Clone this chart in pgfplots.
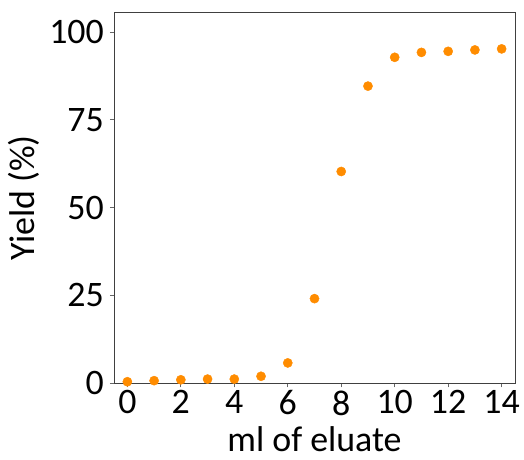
\documentclass[border=0pt]{standalone}
\usepackage{pgfplots}
\pgfplotsset{compat=1.18}
\usepackage{fontspec}
\setmainfont{Carlito}
\definecolor{dorange}{RGB}{255,140,0}
\begin{document}
\fontsize{36}{42}\selectfont
\begin{tikzpicture}
\useasboundingbox (-114bp,-76.7bp) rectangle (410bp,383.3bp);
\begin{axis}[
  at={(0,0)}, anchor=south west,
  scale only axis,
  width=401bp, height=370.6bp,
  xmin=-0.5, xmax=14.5,
  ymin=0, ymax=105.5,
  xtick={0,2,...,14},
  ytick={0,25,50,75,100},
  tick align=outside,
  tick pos=left,
  major tick length=4bp,
  tick style={black!60, line width=0.8pt},
  axis line style={black!75, line width=0.8pt},
  /pgf/number format/assume math mode=true,
  ticklabel style={font=\fontsize{36}{42}\selectfont, inner sep=1bp},
  xticklabel style={yshift=-2bp},
  yticklabel style={xshift=-5bp},
  xlabel={ml of eluate},
  ylabel={Yield (\%)},
  label style={font=\fontsize{36}{42}\selectfont, inner sep=0pt},
  xlabel style={at={(axis description cs:0.5,-0.1827)}, anchor=base},
  ylabel style={at={(axis description cs:-0.2244,0.5)}, anchor=center, rotate=0},
  clip=true,
]
\addplot[only marks, mark=*, mark size=4.6bp, mark options={fill=dorange, draw=dorange}]
coordinates {
(0,0.45) (1,0.75) (2,1.0) (3,1.2) (4,1.2) (5,2.0) (6,5.8) (7,24.1)
(8,60.3) (9,84.6) (10,92.8) (11,94.2) (12,94.5) (13,94.9) (14,95.2)
};
\end{axis}
\end{tikzpicture}
\end{document}
